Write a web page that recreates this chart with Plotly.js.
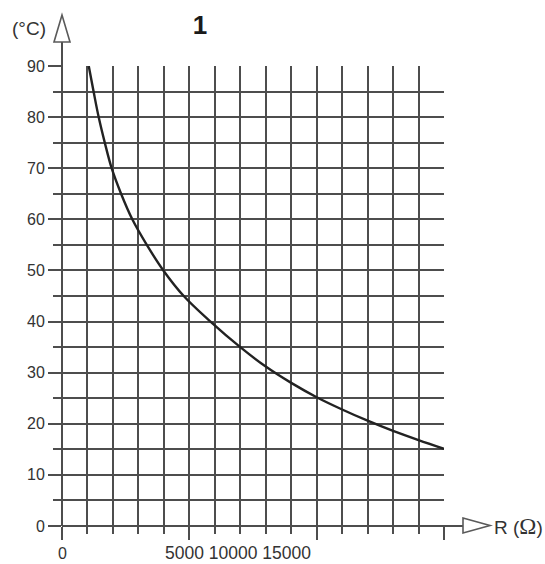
<!DOCTYPE html>
<html>
<head>
<meta charset="utf-8">
<script src="https://cdn.plot.ly/plotly-3.0.1.min.js"></script>
<style>html,body{margin:0;padding:0;background:#fff}#chart{width:545px;height:564px}</style>
</head>
<body>
<div id="chart"></div>
<script>
// Resistance (Ω) vs temperature (°C)
const resistance = [1050, 1240, 1440, 1680, 1950, 2320, 2760, 3330, 3980, 4780, 5830, 7000, 8000, 9000, 10000, 11000, 12000, 13000, 14000, 15000];
const temperature = [90, 85, 80, 75, 70, 65, 60, 55, 50, 45, 40, 35, 31.2, 28.0, 25.2, 22.8, 20.6, 18.6, 16.8, 15.1];
const xTickLabels = ['0', '5000', '10000', '15000'];
const chartTitle = '1';
const yUnit = '(°C)';
const xUnit = 'R (';

const ink = '#333333';
const grid = '#4d4d4d';
const fontFam = 'Liberation Sans, Arial, sans-serif';

const trace = {
  x: resistance, y: temperature, type: 'scatter', mode: 'lines',
  line: {color: '#222222', width: 2.4, shape: 'spline', smoothing: 1},
  hoverinfo: 'skip', cliponaxis: false
};

// paper-coordinate helpers (plot area 62..444 x 66..526 px)
const L = 62, T = 66, W = 382, H = 460;
const px = x => (x - L) / W;
const py = y => (T + H - y) / H;

const layout = {
  width: 545, height: 564,
  margin: {l: L, r: 545 - L - W, t: T, b: 564 - T - H, pad: 0},
  paper_bgcolor: '#fff', plot_bgcolor: '#fff',
  showlegend: false,
  font: {family: fontFam, color: ink, size: 16},
  title: {text: '<b>' + chartTitle + '</b>', x: 200 / 545, xref: 'container', xanchor: 'center',
          y: 1 - 25 / 564, yref: 'container', yanchor: 'middle',
          font: {size: 26, family: fontFam, color: '#1a1a1a'}},
  xaxis: {
    range: [0, 15000], tickmode: 'linear', tick0: 0, dtick: 5000,
    showgrid: true, gridcolor: grid, gridwidth: 2,
    ticks: 'outside', ticklen: 13, tickwidth: 2, tickcolor: grid,
    showticklabels: false, zeroline: false, showline: false, fixedrange: true,
    minor: {dtick: 1000, tick0: 0, showgrid: true, gridcolor: grid, gridwidth: 2,
            ticks: 'outside', ticklen: 7, tickwidth: 2, tickcolor: grid}
  },
  yaxis: {
    range: [0, 90], tickmode: 'linear', tick0: 0, dtick: 10,
    showgrid: true, gridcolor: grid, gridwidth: 2,
    ticks: 'outside', ticklen: 13, tickwidth: 2, tickcolor: grid,
    tickfont: {size: 16, family: fontFam, color: ink},
    zeroline: false, showline: false, fixedrange: true,
    minor: {dtick: 5, tick0: 0, showgrid: true, gridcolor: grid, gridwidth: 2,
            ticks: 'outside', ticklen: 8, tickwidth: 2, tickcolor: grid}
  },
  shapes: [
    // extended axis lines
    {type: 'line', xref: 'paper', yref: 'paper', x0: 0, x1: 0, y0: 0, y1: py(42),
     line: {color: grid, width: 2}},
    {type: 'line', xref: 'paper', yref: 'paper', x0: 0, x1: px(463), y0: 0, y1: 0,
     line: {color: grid, width: 2}},
    // hollow arrow heads
    {type: 'path', xref: 'paper', yref: 'paper',
     path: `M ${px(62)} ${py(15)} L ${px(54)} ${py(42)} L ${px(70)} ${py(42)} Z`,
     line: {color: '#5a5a5a', width: 1.6}, fillcolor: 'rgba(0,0,0,0)'},
    {type: 'path', xref: 'paper', yref: 'paper',
     path: `M ${px(463)} ${py(518)} L ${px(490)} ${py(525.5)} L ${px(463)} ${py(533)} Z`,
     line: {color: '#5a5a5a', width: 1.6}, fillcolor: 'rgba(0,0,0,0)'}
  ],
  annotations: [
    {text: yUnit, xref: 'paper', yref: 'paper', x: px(29), y: py(29), showarrow: false,
     xanchor: 'center', yanchor: 'middle', font: {size: 19, color: ink}},
    {text: xUnit + '<span style="font-family:Liberation Serif;font-size:23px">Ω</span>)', xref: 'paper', yref: 'paper',
     x: px(492), y: py(526), showarrow: false, xanchor: 'left', yanchor: 'middle',
     font: {size: 19, color: ink}},
    {text: xTickLabels[0], xref: 'x', yref: 'paper', x: 0, y: py(553), showarrow: false,
     xanchor: 'center', yanchor: 'middle', font: {size: 16, color: ink}},
    {text: xTickLabels.slice(1).join(' '), xref: 'paper', yref: 'paper', x: px(163), y: py(553),
     showarrow: false, xanchor: 'left', yanchor: 'middle', font: {size: 17.5, color: ink}}
  ]
};

Plotly.newPlot('chart', [trace], layout, {staticPlot: true, displayModeBar: false});
</script>
</body>
</html>
